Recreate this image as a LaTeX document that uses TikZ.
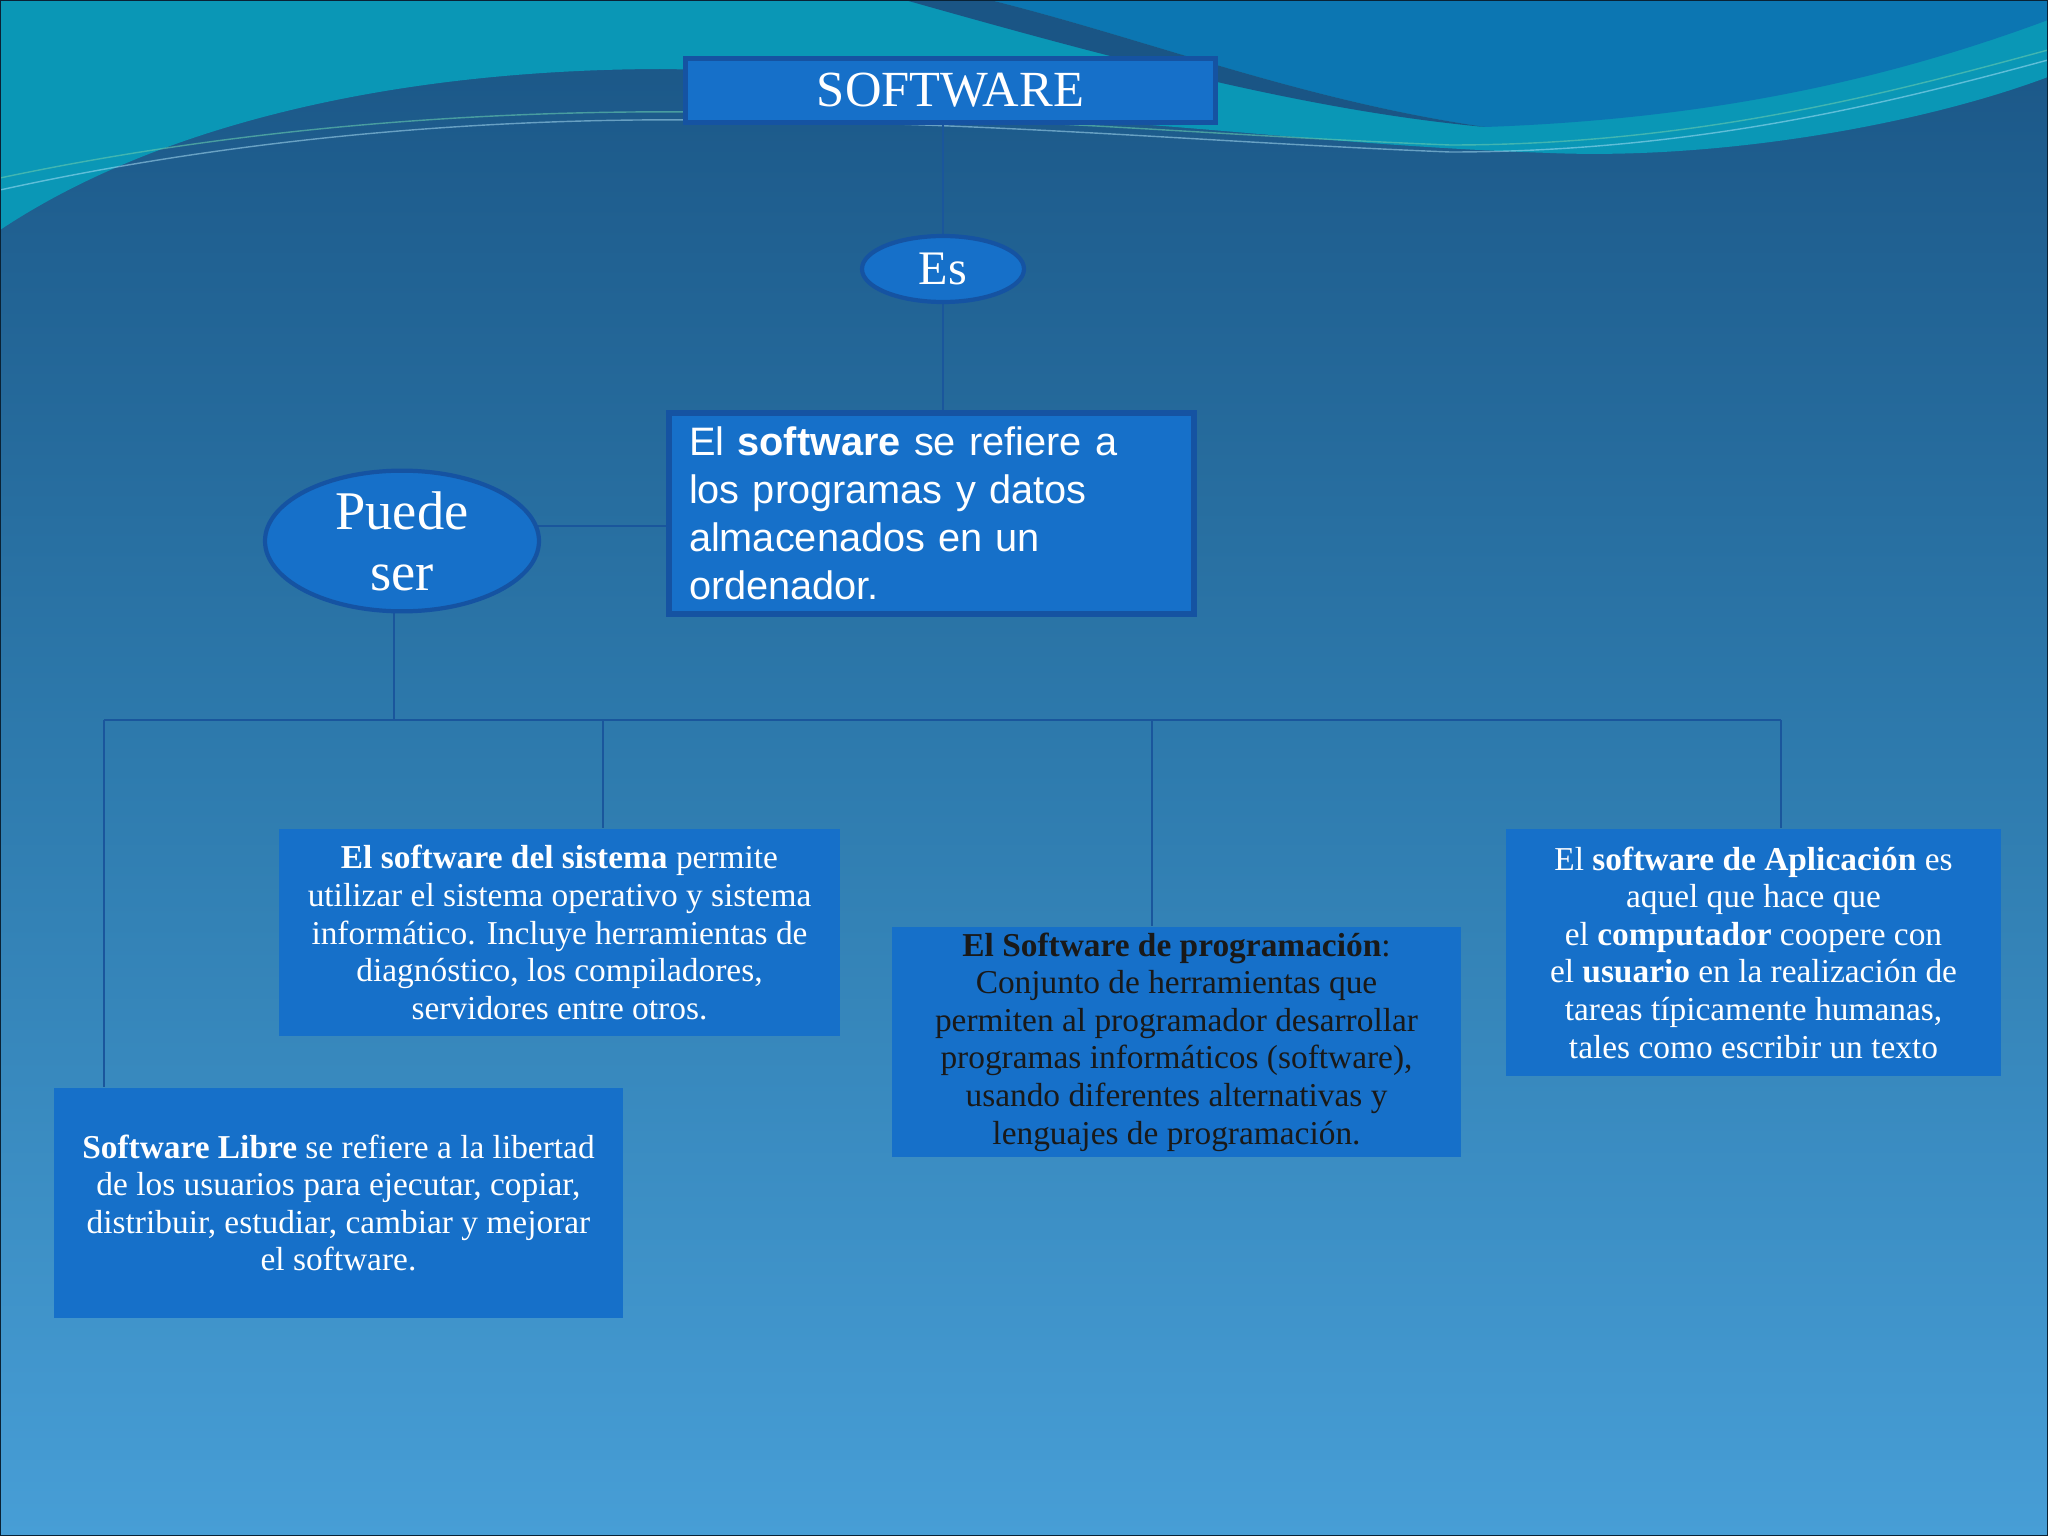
\documentclass[tikz,border=0pt]{standalone}
\usepackage{fontspec}
\setmainfont{Liberation Serif}
\newfontfamily\arialfont{Liberation Sans}
\usetikzlibrary{shapes.geometric,backgrounds}

\definecolor{bgtop}{HTML}{1A5585}
\definecolor{bgmid}{HTML}{2E7BAE}
\definecolor{bgbot}{HTML}{479ED6}
\definecolor{wavecyan}{HTML}{0A97B6}
\definecolor{waveblue}{HTML}{0C76B2}
\definecolor{boxblue}{HTML}{1670C9}
\definecolor{edgeblue}{HTML}{1553A2}
\definecolor{linkblue}{HTML}{1A569C}

\tikzset{
  titlebox/.style={draw=edgeblue,line width=1.6pt,fill=boxblue,text=white,
    minimum width=5.3cm,minimum height=0.64cm,font=\fontsize{14.4}{16}\selectfont},
  oval/.style={ellipse,draw=edgeblue,line width=1.2pt,fill=boxblue,text=white,inner sep=0pt},
  defbox/.style={draw=edgeblue,line width=1.5pt,fill=boxblue,text=white,align=left,
    text width=4.85cm,inner xsep=0.2cm,minimum height=2.01cm,
    font=\arialfont\fontsize{11.3}{13.6}\selectfont},
  infobox/.style={fill=boxblue,text=white,align=center,inner sep=0pt,
    font=\fontsize{9.5}{10.7}\selectfont},
  link/.style={draw=linkblue,line width=0.7pt}
}

\begin{document}
\begin{tikzpicture}
  \useasboundingbox (0,0) rectangle (20.48,-15.36);

  %title and first level
  \node[titlebox] (title) at (9.505,-0.905) {SOFTWARE};
  \node[oval,minimum width=1.62cm,minimum height=0.66cm,font=\fontsize{13.7}{15}\selectfont] (es) at (9.43,-2.69) {Es};
  \node[defbox] (def) at (9.315,-5.135) {El \textbf{software} se refiere a\\los programas y datos\\almacenados en un\\ordenador.};
  \node[oval,minimum width=2.74cm,minimum height=1.3cm,align=center,font=\fontsize{15.5}{17.4}\selectfont] (puede) at (4.02,-5.41) {Puede\\ser};

  %boxes
  \node[infobox,minimum width=5.61cm,minimum height=2.07cm] (sistema) at (5.595,-9.325)
    {\textbf{El software del sistema} permite\\utilizar el sistema operativo y sistema\\informático. Incluye herramientas de\\diagnóstico, los compiladores,\\servidores entre otros.};
  \node[infobox,minimum width=5.69cm,minimum height=2.30cm] (libre) at (3.385,-12.03)
    {\textbf{Software Libre} se refiere a la libertad\\de los usuarios para ejecutar, copiar,\\distribuir, estudiar, cambiar y mejorar\\el software.};
  \node[infobox,minimum width=5.69cm,minimum height=2.30cm,text=black!90] (prog) at (11.765,-10.42)
    {\textbf{El Software de programación}:\\Conjunto de herramientas que\\permiten al programador desarrollar\\programas informáticos (software),\\usando diferentes alternativas y\\lenguajes de programación.};
  \node[infobox,minimum width=4.95cm,minimum height=2.47cm] (aplic) at (17.535,-9.525)
    {El \textbf{software de Aplicación} es\\aquel que hace que\\el \textbf{computador} coopere con\\el \textbf{usuario} en la realización de\\tareas típicamente humanas,\\tales como escribir un texto};

  %background and waves
  \begin{scope}[on background layer]
    \shade[top color=bgtop,bottom color=bgbot,middle color=bgmid] (0,0) rectangle (20.48,-15.36);
    \fill[wavecyan] (0,0) -- (20.48,0) -- (20.48,-0.77)
      .. controls (19.2,-1.25) and (17.2,-1.6) .. (15.5,-1.53)
      .. controls (14,-1.48) and (12.8,-1.35) .. (11.5,-1.25)
      .. controls (9.5,-1.1) and (8.2,-0.7) .. (6.6,-0.69)
      .. controls (3.8,-0.7) and (1.5,-1.3) .. (0,-2.3) -- cycle;
    \fill[waveblue] (9.9,0) .. controls (11.5,-0.4) and (13,-1.0) .. (14.85,-1.27)
      .. controls (16.8,-1.2) and (18.6,-0.9) .. (20.48,-0.2) -- (20.48,0) -- cycle;
    \fill[bgtop] (9.05,0) .. controls (11,-0.55) and (13,-1.1) .. (14.85,-1.27)
      .. controls (13,-1.0) and (11.5,-0.4) .. (9.9,0) -- cycle;
    \draw[cyan!40!green!60!white,opacity=0.6,line width=0.4pt] (0,-1.78)
      .. controls (2.5,-1.25) and (5,-1.1) .. (7,-1.12)
      .. controls (10,-1.15) and (12,-1.35) .. (14.5,-1.45)
      .. controls (17,-1.45) and (19,-0.9) .. (20.48,-0.5);
    \draw[cyan!30!white,opacity=0.5,line width=0.4pt] (0,-1.9)
      .. controls (2.5,-1.35) and (5,-1.18) .. (7,-1.2)
      .. controls (10,-1.22) and (12,-1.42) .. (14.5,-1.52)
      .. controls (17,-1.52) and (19,-1.0) .. (20.48,-0.6);
    \draw[black!60!bgtop,line width=0.8pt] (0,0) rectangle (20.48,-15.36);

    %connectors
    \coordinate (side) at (5,-5.26);
    \coordinate (bus) at (3.94,-7.20);
    \coordinate (dropL) at (1.04,-7.20);
    \coordinate (dropS) at (6.03,-7.20);
    \coordinate (dropP) at (11.52,-7.20);
    \coordinate (dropA) at (17.81,-7.20);
    \draw[link] (es) -- (es |- title);
    \draw[link] (es) -- (es |- def);
    \draw[link] (side -| puede) -- (side -| def.west);
    \draw[link] (bus |- puede) -- (bus);
    \draw[link] (dropL) -- (dropA);
    \draw[link] (dropL) -- (dropL |- libre.north);
    \draw[link] (dropS) -- (dropS |- sistema.north);
    \draw[link] (dropP) -- (dropP |- prog.north);
    \draw[link] (dropA) -- (dropA |- aplic.north);
  \end{scope}
\end{tikzpicture}
\end{document}
